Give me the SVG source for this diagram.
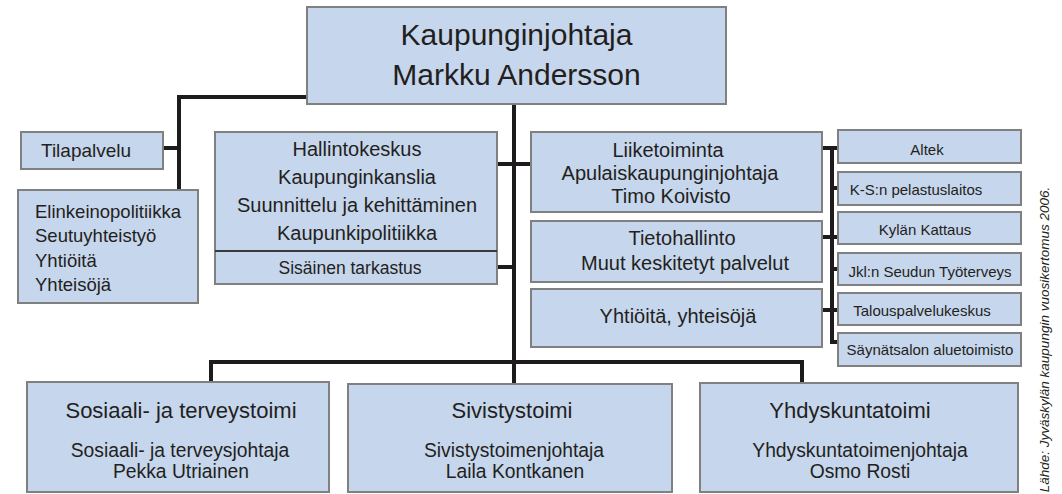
<svg xmlns="http://www.w3.org/2000/svg" width="1062" height="494" viewBox="0 0 1062 494">
<style>
.box{fill:#c6d6ec;stroke:#808080;stroke-width:2}
.ln{fill:none;stroke:#1e1b1c;stroke-width:4;stroke-linejoin:miter;stroke-linecap:butt}
text{font-family:"Liberation Sans",Arial,sans-serif;fill:#231f20}
.c{text-anchor:middle}
.t30{font-size:30px}
.t20{font-size:20px}
.t19{font-size:19px}
.t18{font-size:18.5px}
.t17{font-size:17.5px}
.t15{font-size:15px}
.t22{font-size:22px}
.t193{font-size:19.3px}
.src{font-size:13.5px;font-style:italic;text-anchor:middle}
</style>
<rect width="1062" height="494" fill="#ffffff"/>
<g id="connectors">
<path class="ln" d="M514,104 V384"/>
<path class="ln" d="M307,97 H179 V190"/>
<path class="ln" d="M163,148 H181"/>
<path class="ln" d="M497,164 H531"/>
<path class="ln" d="M497,267 H514"/>
<path class="ln" d="M211,383 V362 H802 V383"/>
<path class="ln" d="M822,148 H838"/>
<path class="ln" d="M832,146 V342 H838"/>
<path class="ln" d="M832,188 H838"/>
<path class="ln" d="M822,237 H838"/>
<path class="ln" d="M832,269 H838"/>
<path class="ln" d="M822,310 H838"/>
</g>
<g id="kaupunginjohtaja">
<rect class="box" x="307" y="7" width="419" height="97"/>
<text class="c t30" x="516.5" y="45">Kaupunginjohtaja</text>
<text class="c t30" x="516.5" y="85">Markku Andersson</text>
</g>
<g id="tilapalvelu">
<rect class="box" x="21" y="132" width="142" height="37"/>
<text class="t19" x="41" y="157">Tilapalvelu</text>
</g>
<g id="elinkeinopolitiikka">
<rect class="box" x="18" y="190" width="180" height="113"/>
<text class="t18" x="35" y="218">Elinkeinopolitiikka</text>
<text class="t18" x="35" y="242">Seutuyhteistyö</text>
<text class="t18" x="35" y="267">Yhtiöitä</text>
<text class="t18" x="35" y="291">Yhteisöjä</text>
</g>
<g id="hallintokeskus">
<rect class="box" x="215" y="132" width="282" height="152"/>
<line x1="215" y1="251" x2="497" y2="251" stroke="#3a3a3a" stroke-width="2"/>
<text class="c t20" x="357" y="156">Hallintokeskus</text>
<text class="c t20" x="357" y="184">Kaupunginkanslia</text>
<text class="c t20" x="357" y="212">Suunnittelu ja kehittäminen</text>
<text class="c t20" x="357" y="240">Kaupunkipolitiikka</text>
<text class="c t17" x="350" y="274">Sisäinen tarkastus</text>
</g>
<g id="liiketoiminta">
<rect class="box" x="531" y="132" width="291" height="80"/>
<text class="c t20" x="668" y="157">Liiketoiminta</text>
<text class="c t20" x="670" y="180">Apulaiskaupunginjohtaja</text>
<text class="c t20" x="671" y="203">Timo Koivisto</text>
</g>
<g id="tietohallinto">
<rect class="box" x="531" y="221" width="291" height="61"/>
<text class="c t20" x="682" y="245">Tietohallinto</text>
<text class="c t20" x="685" y="270">Muut keskitetyt palvelut</text>
</g>
<g id="yhtioita">
<rect class="box" x="531" y="289" width="291" height="58"/>
<text class="c t20" x="678" y="323">Yhtiöitä, yhteisöjä</text>
</g>
<g id="altek">
<rect class="box" x="838" y="130" width="183" height="33"/>
<text class="c t15" x="927" y="155">Altek</text>
</g>
<g id="pelastuslaitos">
<rect class="box" x="838" y="172" width="183" height="33"/>
<text class="c t15" x="916" y="195">K-S:n pelastuslaitos</text>
</g>
<g id="kylan-kattaus">
<rect class="box" x="838" y="212" width="183" height="32"/>
<text class="c t15" x="925" y="235">Kylän Kattaus</text>
</g>
<g id="tyoterveys">
<rect class="box" x="838" y="253" width="183" height="32"/>
<text class="c t15" x="930" y="277">Jkl:n Seudun Työterveys</text>
</g>
<g id="talouspalvelukeskus">
<rect class="box" x="838" y="293" width="183" height="32"/>
<text class="c t15" x="922" y="316">Talouspalvelukeskus</text>
</g>
<g id="saynatsalo">
<rect class="box" x="838" y="333" width="183" height="33"/>
<text class="c t15" x="930" y="355">Säynätsalon aluetoimisto</text>
</g>
<g id="sosiaalitoimi">
<rect class="box" x="27" y="382" width="302" height="110"/>
<text class="c t22" x="181" y="418">Sosiaali- ja terveystoimi</text>
<text class="c t193" x="180" y="457">Sosiaali- ja terveysjohtaja</text>
<text class="c t193" x="181" y="478">Pekka Utriainen</text>
</g>
<g id="sivistystoimi">
<rect class="box" x="348" y="384" width="324" height="108"/>
<text class="c t22" x="512" y="418">Sivistystoimi</text>
<text class="c t193" x="514" y="457">Sivistystoimenjohtaja</text>
<text class="c t193" x="515" y="478">Laila Kontkanen</text>
</g>
<g id="yhdyskuntatoimi">
<rect class="box" x="700" y="383" width="318" height="109"/>
<text class="c t22" x="850" y="418">Yhdyskuntatoimi</text>
<text class="c t193" x="860" y="457">Yhdyskuntatoimenjohtaja</text>
<text class="c t193" x="860" y="478">Osmo Rosti</text>
</g>
<text class="src" transform="translate(1049,339.5) rotate(-90)">Lähde: Jyväskylän kaupungin vuosikertomus 2006.</text>
</svg>
